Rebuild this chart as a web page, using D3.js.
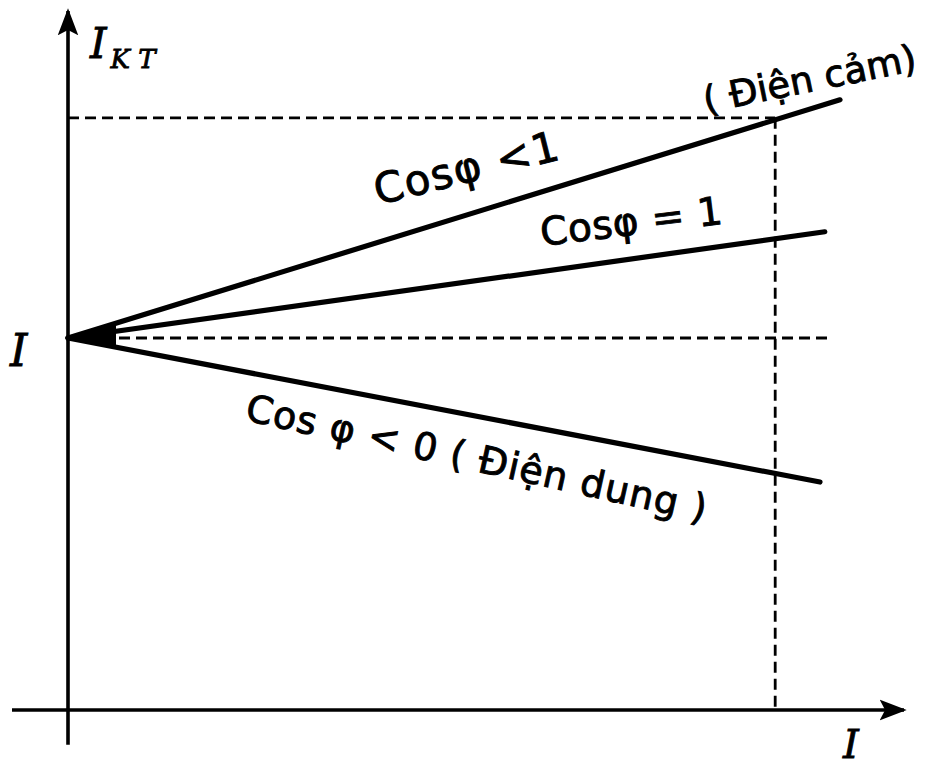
<!DOCTYPE html>
<html><head><meta charset="utf-8">
<script src="https://cdn.jsdelivr.net/npm/d3@7"></script>
<style>html,body{margin:0;padding:0;background:#fff;}svg{display:block;}</style>
</head><body>
<script>
// Data (diagram units: x = load current, y = excitation current I_KT)
const vertex = {x: 0, y: 62};
const seriesNames = ["Cosφ <1", "Cosφ = 1", "Cosφ < 0"];
const seriesEndX = [96.5, 94.6, 94];
const seriesEndY = [101.7, 79.7, 38];
const refX = 88.4;          // vertical dashed reference
const refY = 98.7;          // horizontal dashed reference (intersection with Cosφ<1)
const midDashEndX = 95;     // horizontal dashed line at I level

const W = 936, H = 768;
const x = d3.scaleLinear().domain([0, 100]).range([68, 868]);
const y = d3.scaleLinear().domain([0, 100]).range([710, 110]);

const svg = d3.select("body").append("svg").attr("width", W).attr("height", H);
const defs = svg.append("defs");
defs.append("marker").attr("id","arr").attr("viewBox","0 0 10 10").attr("refX",9).attr("refY",5)
  .attr("markerWidth",7.5).attr("markerHeight",7.5).attr("markerUnits","strokeWidth").attr("orient","auto")
  .append("path").attr("d","M0,1.2 L10,5 L0,8.8 L2,5 Z").attr("fill","#000");

// axes
svg.append("line").attr("x1", x(0)).attr("x2", x(0)).attr("y1", y(-5.8)).attr("y2", y(116.5))
  .attr("stroke","#000").attr("stroke-width",3.6).attr("marker-end","url(#arr)");
svg.append("line").attr("x1", x(-7)).attr("x2", x(104.5)).attr("y1", y(0)).attr("y2", y(0))
  .attr("stroke","#000").attr("stroke-width",3.6).attr("marker-end","url(#arr)");

// dashed reference lines
const dash = {stroke:"#000", "stroke-width":2.8, "stroke-dasharray":"11,6"};
function dl(x1,y1,x2,y2){
  const l = svg.append("line").attr("x1",x(x1)).attr("y1",y(y1)).attr("x2",x(x2)).attr("y2",y(y2));
  Object.entries(dash).forEach(([k,v])=>l.attr(k,v));
}
dl(0, refY, refX, refY);
dl(refX, refY, refX, 0);
dl(0, vertex.y, midDashEndX, vertex.y);

// characteristic lines
seriesNames.forEach((n,i)=>{
  svg.append("line").attr("x1", x(vertex.x)).attr("y1", y(vertex.y))
    .attr("x2", x(seriesEndX[i])).attr("y2", y(seriesEndY[i]))
    .attr("stroke","#000").attr("stroke-width",5.2).attr("stroke-linecap","round");
});
// thickened wedge at the vertex
const t = 6;
const wedge = [[vertex.x, vertex.y],
  [t, vertex.y + (seriesEndY[0]-vertex.y)*t/seriesEndX[0] - 0.2],
  [t, vertex.y + (seriesEndY[2]-vertex.y)*t/seriesEndX[2] + 0.2]];
svg.append("path").attr("d", d3.line().x(d=>x(d[0])).y(d=>y(d[1]))(wedge) + "Z").attr("fill","#000");

// labels
const hand = "'DejaVu Sans', sans-serif";
function label(txt, px, py, rot, size, opts={}){
  const t = svg.append("text").attr("transform",`translate(${px},${py}) rotate(${rot})`)
    .attr("font-family", opts.family || hand).attr("font-size", size)
    .attr("font-style", opts.style || "normal").attr("fill","#000")
    .attr("stroke","#000").attr("stroke-width", opts.sw || 0.9)
    .attr("text-anchor", opts.anchor || "start");
  if (opts.lsp) t.attr("letter-spacing", opts.lsp);
  t.text(txt);
  return t;
}
label("Cosφ <1", 378, 205, -14, 42, {lsp: 1.5});
label("Cosφ = 1", 542, 246, -7, 39, {lsp: 0.5});
label("( Điện cảm)", 706, 113, -11.5, 37);
label("Cos φ < 0 ( Điện dung )", 244, 420, 12.5, 38, {lsp: 1});

// axis titles
const serif = "'DejaVu Serif', 'Liberation Serif', serif";
const ikt = svg.append("text").attr("x", 90).attr("y", 58).attr("font-family", serif)
  .attr("font-style","italic").attr("font-size", 42).attr("fill","#000")
  .attr("stroke","#000").attr("stroke-width",0.8);
ikt.append("tspan").text("I");
ikt.append("tspan").attr("dy", 10).attr("dx", 4).attr("font-size", 26).text("K T");
label("I", 10, 366, 0, 44, {family: serif, style: "italic", sw: 0.8});
label("I", 843, 758, 0, 40, {family: serif, style: "italic", sw: 0.8});
</script>
</body></html>
